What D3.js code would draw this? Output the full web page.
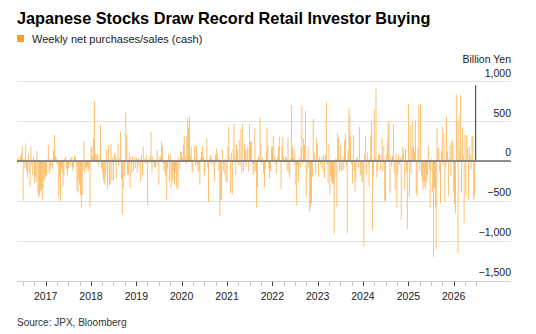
<!DOCTYPE html>
<html>
<head>
<meta charset="utf-8">
<script src="https://cdn.jsdelivr.net/npm/d3@7"></script>
<style>
  body { margin: 0; background: #fff; }
  text { font-family: "Liberation Sans", Arial, sans-serif; }
</style>
</head>
<body>
<div id="chart"></div>
<script>
var svgWidth = 536;
var svgHeight = 334;

// weekly net purchases/sales (cash), billion yen, one array per year
var w2016 = [20, -30, 40, -20, 60, 90, 180, -500, 30, -90, 220, -120, -210, 75, -150, -320, 180, -60, -175, 55, -280, -200, -260, 125, -400, -460, -430, -380, -360, -490, -330, -250, -230];
var w2017 = [-200, -175, 20, 200, -165, -120, -60, 30, -100, 140, 325, 65, 40, -40, -60, -445, -200, -510, -90, -150, -320, -180, 30, 55, -100, -180, -90, -40, 40, -70, 55, -120, -80, 75, 55, -60, -360, -400, -240, -300, -425, -590, -425, -120, 240, -150, -80, -100, -60, -130, -90, -570];
var w2018 = [180, 180, 60, 285, 750, 85, 85, 60, 85, -80, 30, 450, -90, -140, -230, -270, -300, -180, 140, -360, 200, -300, -300, 210, -240, 40, -250, 95, 75, -215, 30, 220, -60, 40, 365, -225, -665, -340, -100, -200, 605, 325, -175, -175, 110, -340, 55, -150, 55, -120, 55, -90];
var w2019 = [35, -150, 35, -60, 30, -250, 75, -180, 180, -20, 35, -40, 75, -550, 20, -30, 60, 365, -150, 55, -30, -80, -90, 20, 140, -60, -300, 55, 55, 240, 180, -30, -120, -150, -200, -490, -100, 80, -260, 80, -340, -220, -260, -120, -300, -150, -340, -200, -360, 55, -100, 115];
var w2020 = [115, 40, 200, 310, 60, -40, 310, 530, 420, 555, 60, 180, -130, -150, 30, 190, -60, 190, -50, -130, -140, -300, 40, 110, 180, 50, -195, -120, 20, 285, -80, -515, 20, 75, -40, 40, -20, -60, -260, 75, 160, 95, -120, 30, -685, -490, -490, 140, -120, -170, 30, -265];
var w2021 = [-265, 180, 430, 60, -400, 100, -415, 150, 470, 75, -175, 200, 140, -50, 260, -60, 400, -155, 460, -130, 220, 140, -80, 140, 180, -130, 470, 240, 240, -30, -175, -155, 410, -130, -585, -330, 55, 30, 540, 220, -50, 40, -155, -330, -100, 120, 410, 200, -90, -225, -130, 180];
var w2022 = [180, 310, 75, -40, 30, -150, 55, 180, 300, -20, -350, 180, 300, 55, -30, 55, 40, -130, 285, -150, -210, 30, 700, 180, 30, 150, -50, -300, -560, -50, -260, 40, -80, 180, 690, -40, 285, 200, 625, -445, -130, 180, -80, -640, -570, -530, -200, 525, 110, 75, -160, 285];
var w2023 = [225, -200, 55, -40, -80, 55, -130, 80, -215, 75, 740, -50, -280, 210, -415, -190, -260, -280, -300, -915, -200, 40, -570, 345, 285, -130, 200, -110, -130, 55, -110, 260, 345, -60, -915, 140, 660, 575, 310, -40, -280, 325, -130, -385, -260, 55, 30, -80, 430, -170, -195, -260];
var w2024 = [-265, -1070, 80, 310, -170, 110, -40, -320, 30, 325, 490, -860, -190, 640, 40, 910, -210, -130, 75, 85, -110, 75, 290, -130, 190, -500, -500, 80, 250, 500, 470, -400, 55, -70, 60, 460, -150, -360, 95, -585, -175, 80, -50, 40, -740, 75, 180, 140, -360, 150, -140, -860];
var w2025 = [720, -445, 450, -170, 165, 490, 180, 115, 510, -415, -445, 160, 700, -130, 720, -190, -270, -360, -260, -320, -360, -260, -175, 190, -110, -585, -130, 30, -395, -1210, -340, -570, -1110, 410, 160, 160, -130, -530, 120, 430, -60, 345, -510, -80, 555, 120, -445, 30, 200, -190, 260, 240];
var w2026 = [-385, -540, -655, 835, 490, -1155, 555, 140, 825, -400, 420, 70, -780, 325, -445, 325, 160, -490, 180, 80, -110, 300, 315, -490, -445, 950];

var yTicks = [-1500, -1000, -500, 0, 500, 1000];
var years = [2017, 2018, 2019, 2020, 2021, 2022, 2023, 2024, 2025, 2026];

var DAY = 86400000;

// build one row per week; 2016 runs backwards from the start of 2017
var data = [];
w2016.forEach(function(v, k) {
  data.push({ date: new Date(new Date(2017, 0, 1).getTime() - 7 * (w2016.length - k) * DAY), value: v });
});
[w2017, w2018, w2019, w2020, w2021, w2022, w2023, w2024, w2025, w2026].forEach(function(arr, i) {
  arr.forEach(function(v, k) {
    data.push({ date: new Date(new Date(2017 + i, 0, 1).getTime() + 7 * k * DAY), value: v });
  });
});

var plotLeft = 17;
var plotRight = 511;

var svg = d3.select("#chart")
  .append("svg")
  .attr("width", svgWidth)
  .attr("height", svgHeight);

var xScale = d3.scaleTime()
  .domain([new Date(2016, 4, 1), new Date(2027, 0, 1)])
  .range([15.3, 499.0]);

var yScale = d3.scaleLinear()
  .domain([-1500, 1000])
  .range([280.5, 81.2]);

// title + legend
svg.append("text")
  .attr("x", 17)
  .attr("y", 24)
  .attr("font-size", "16.3px")
  .attr("font-weight", "bold")
  .attr("fill", "#000")
  .text("Japanese Stocks Draw Record Retail Investor Buying");

svg.append("rect")
  .attr("x", 17)
  .attr("y", 35)
  .attr("width", 7)
  .attr("height", 7)
  .attr("fill", "#f7a22c");

svg.append("text")
  .attr("x", 32)
  .attr("y", 43)
  .attr("font-size", "11px")
  .attr("fill", "#222")
  .text("Weekly net purchases/sales (cash)");

// gridlines and right-hand labels
var grid = svg.append("g");
grid.selectAll("line")
  .data(yTicks)
  .enter()
  .append("line")
  .attr("x1", plotLeft)
  .attr("x2", plotRight)
  .attr("y1", d => Math.round(yScale(d)) + 0.5)
  .attr("y2", d => Math.round(yScale(d)) + 0.5)
  .attr("stroke", d => d === -1500 ? "#cfcfcf" : "#e2e2e2")
  .attr("stroke-width", 1);

grid.selectAll("text")
  .data(yTicks)
  .enter()
  .append("text")
  .attr("x", plotRight)
  .attr("y", d => yScale(d) - 4.5)
  .attr("text-anchor", "end")
  .attr("font-size", "10.5px")
  .attr("fill", "#222")
  .text(d => d3.format(",")(d));

svg.append("text")
  .attr("x", plotRight)
  .attr("y", 63)
  .attr("text-anchor", "end")
  .attr("font-size", "10.5px")
  .attr("fill", "#222")
  .text("Billion Yen");

// bars
var barW = xScale(new Date(2020, 0, 8)) - xScale(new Date(2020, 0, 1));

svg.append("g")
  .selectAll("rect")
  .data(data)
  .enter()
  .append("rect")
  .attr("x", d => xScale(d.date) - barW / 2)
  .attr("width", (d, i) => i === data.length - 1 ? 1.2 : barW)
  .attr("y", d => yScale(Math.max(0, d.value)))
  .attr("height", d => Math.abs(yScale(d.value) - yScale(0)))
  .attr("fill", (d, i) => i === data.length - 1 ? "#555" : "#fdb85c");

// zero line
svg.append("line")
  .attr("x1", plotLeft)
  .attr("x2", plotRight)
  .attr("y1", yScale(0))
  .attr("y2", yScale(0))
  .attr("stroke", "#6b6b6b")
  .attr("stroke-width", 1.5);

// x axis ticks: quarters light, years dark
var axisY = Math.round(yScale(-1500)) + 0.5;
var quarters = d3.timeMonth.every(3).range(new Date(2016, 6, 1), new Date(2026, 7, 1));

svg.append("g")
  .selectAll("line")
  .data(quarters)
  .enter()
  .append("line")
  .attr("x1", d => Math.round(xScale(d)) + 0.5)
  .attr("x2", d => Math.round(xScale(d)) + 0.5)
  .attr("y1", axisY)
  .attr("y2", axisY + 4.5)
  .attr("stroke", d => d.getMonth() === 0 ? "#444" : "#c8c8c8")
  .attr("stroke-width", 1);

svg.append("g")
  .selectAll("text")
  .data(years)
  .enter()
  .append("text")
  .attr("x", d => xScale(new Date(d, 0, 1)))
  .attr("y", 300)
  .attr("text-anchor", "middle")
  .attr("font-size", "10.5px")
  .attr("fill", "#222")
  .text(d => d);

svg.append("text")
  .attr("x", 17)
  .attr("y", 326)
  .attr("font-size", "10px")
  .attr("fill", "#333")
  .text("Source: JPX, Bloomberg");
</script>
</body>
</html>
